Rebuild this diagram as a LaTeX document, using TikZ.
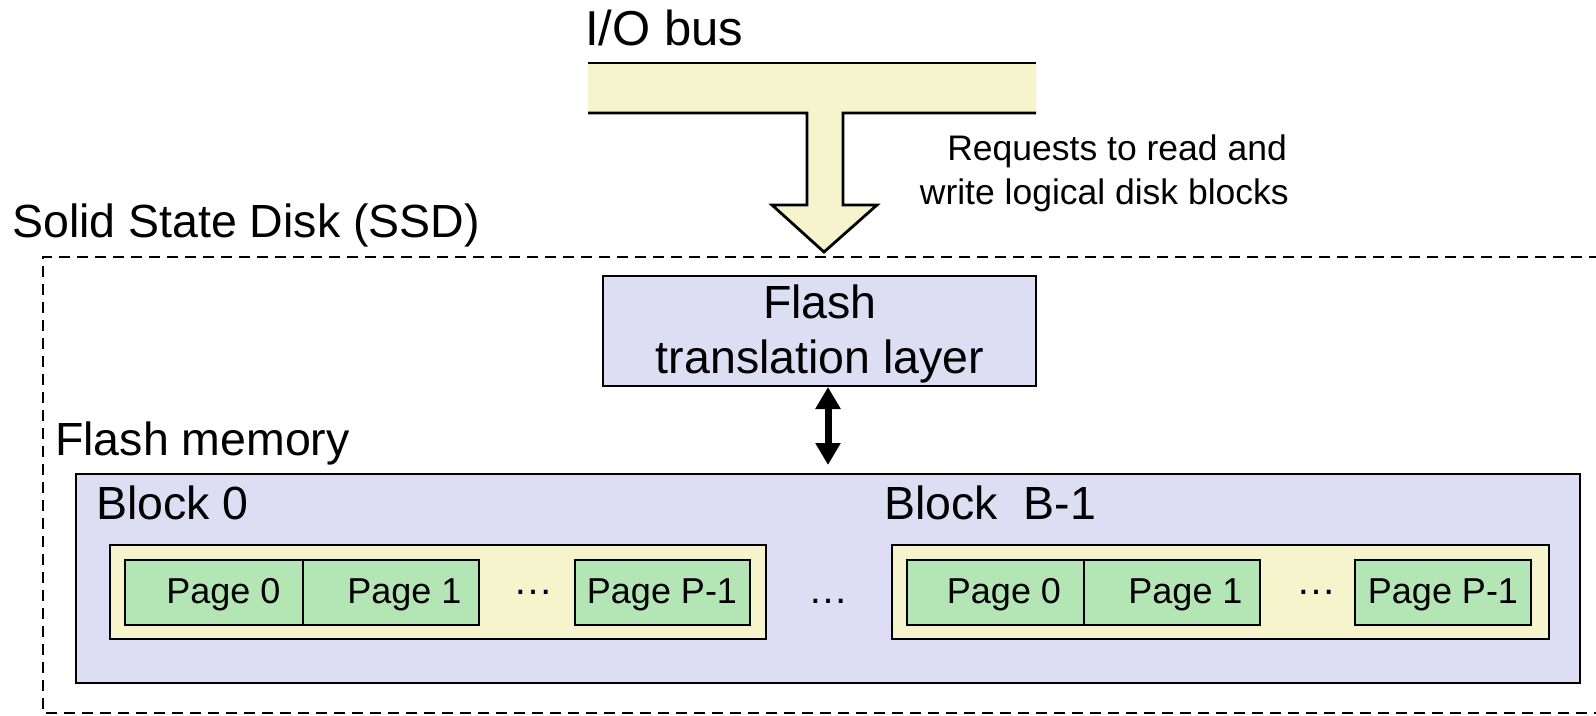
\documentclass[tikz,border=0pt]{standalone}
\usepackage{fontspec}
\setmainfont{Liberation Sans}
\usetikzlibrary{arrows.meta}
\definecolor{busyellow}{HTML}{F6F4CC}
\definecolor{lav}{HTML}{DDDDF3}
\definecolor{pagegreen}{HTML}{B3E5B5}
\begin{document}
\begin{tikzpicture}[x=1pt,y=-1pt,line join=miter,
  big/.style={inner sep=0pt,font=\fontsize{46.5}{54}\selectfont},
  mid/.style={inner sep=0pt,font=\fontsize{35.5}{44}\selectfont},
  pgtxt/.style={inner sep=0pt,font=\fontsize{36}{44}\selectfont,anchor=base},
  dots/.style={inner sep=0pt,font=\fontsize{40}{44}\selectfont,anchor=base},
  box/.style={draw=black,line width=2.6pt,inner sep=0pt,outer sep=0pt},
  lavbox/.style={box,fill=lav},
  yelbox/.style={box,fill=busyellow},
  pagebox/.style={box,fill=pagegreen,minimum height=65pt},
  ssd/.style={line width=2.6pt,dash pattern=on 11pt off 7pt},
  dbl/.style={line width=7pt,{Triangle[width=24pt,length=22pt]}-{Triangle[width=24pt,length=22pt]}}]
\useasboundingbox (0,0) rectangle (1596,715);

% I/O bus with downward block arrow
\fill[busyellow] (588,63) -- (1036,63) -- (1036,113) -- (843,113) -- (843,205) -- (877,205)
  -- (824,252) -- (772,205) -- (807,205) -- (807,113) -- (588,113) -- cycle;
\draw[line width=2.8pt] (588,63) -- (1036,63);
\draw[line width=2.8pt] (1036,113) -- (843,113) -- (843,205) -- (877,205)
  -- (824,252) -- (772,205) -- (807,205) -- (807,113) -- (588,113);
\node[big,anchor=base west,font=\fontsize{49}{54}\selectfont] (iobus) at (585,45) {I/O bus};

\node[mid,anchor=base east] (req1) at (1287,160) {Requests to read and};
\node[mid,anchor=base east] (req2) at (1289,204) {write logical disk blocks};

% SSD dashed boundary
\node[big,anchor=base west] (ssdlbl) at (12,237) {Solid State Disk (SSD)};
\draw[ssd] (1600,257) -- (43,257) -- (43,713) -- (1600,713);

% Flash translation layer
\node[lavbox,minimum width=433pt,minimum height=110pt] (ftl) at (819.5,331) {};
\node[big,anchor=base] (ftl1) at (820,318) {Flash};
\node[big,anchor=base] (ftl2) at (820,373) {translation layer};

% Flash memory
\node[big,anchor=base west] (fmlbl) at (55,455) {Flash memory};
\node[lavbox,minimum width=1504pt,minimum height=209pt] (fm) at (828,578.5) {};

\coordinate (dtop) at (828,387);
\coordinate (dbot) at (828,465);
\draw[dbl] (dtop) -- (dbot);

% Block 0
\node[big,anchor=base west] (b0lbl) at (96,519) {Block 0};
\node[yelbox,minimum width=656pt,minimum height=94pt] (b0) at (438,592) {};
\node[pagebox,minimum width=178pt] (b0p0) at (214,592.5) {};
\node[pagebox,minimum width=176pt] (b0p1) at (391,592.5) {};
\node[pagebox,minimum width=175pt] (b0pl) at (662.5,592.5) {};
\node[pgtxt] (t00) at (223.5,603) {Page 0};
\node[pgtxt] (t01) at (404.5,603) {Page 1};
\node[pgtxt] (t0l) at (662,603) {Page P-1};
\node[dots] (d0) at (533,594) {…};

% between blocks
\node[dots] (dmid) at (828,603) {…};

% Block B-1
\node[big,anchor=base west] (bBlbl) at (884,519) {Block\ \ B-1};
\node[yelbox,minimum width=657pt,minimum height=94pt] (bB) at (1220.5,592) {};
\node[pagebox,minimum width=177pt] (bBp0) at (995.5,592.5) {};
\node[pagebox,minimum width=176pt] (bBp1) at (1172,592.5) {};
\node[pagebox,minimum width=176pt] (bBpl) at (1443,592.5) {};
\node[pgtxt] (tB0) at (1004,603) {Page 0};
\node[pgtxt] (tB1) at (1185.5,603) {Page 1};
\node[pgtxt] (tBl) at (1443,603) {Page P-1};
\node[dots] (dB) at (1316,594) {…};
\end{tikzpicture}
\end{document}
